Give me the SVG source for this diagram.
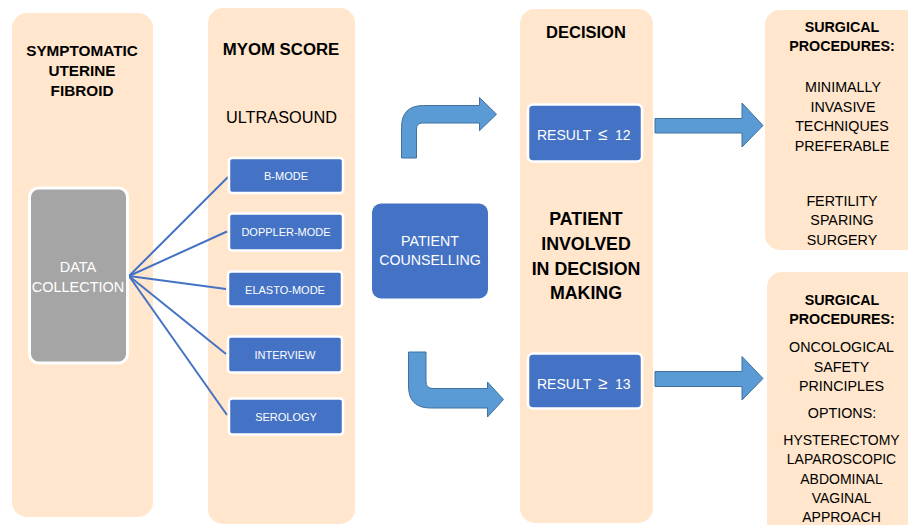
<svg xmlns="http://www.w3.org/2000/svg" width="908" height="525" viewBox="0 0 908 525">
<style>
text{font-family:"Liberation Sans",Arial,sans-serif;text-anchor:middle}
.panel{fill:#FFE6CC}
.b{font-weight:bold;fill:#000}
.r{fill:#000}
.w{fill:#fff}
.box{fill:#4472C4;stroke:#fff;stroke-width:2.5}
.arr{fill:#5B9BD5;stroke:#41719C;stroke-width:1}
.ln{stroke:#4472C4;stroke-width:2;fill:none}
</style>
<rect width="908" height="525" fill="#fff"/>
<g id="panel-symptomatic">
<rect class="panel" x="12" y="13" width="141" height="504" rx="15"/>
<text class="b" font-size="15.3" x="82" y="56">SYMPTOMATIC</text>
<text class="b" font-size="15.3" x="82" y="76">UTERINE</text>
<text class="b" font-size="15.3" x="82" y="96">FIBROID</text>
</g>
<g id="panel-myom">
<rect class="panel" x="208" y="8" width="147" height="516" rx="15"/>
<text class="b" font-size="16.8" x="281" y="55">MYOM SCORE</text>
<text class="r" font-size="16.3" x="281.5" y="123">ULTRASOUND</text>
</g>
<g id="panel-decision">
<rect class="panel" x="520" y="9" width="133" height="514" rx="15"/>
<text class="b" font-size="16.5" x="586" y="38">DECISION</text>
<text class="b" font-size="17.8" x="586" y="225">PATIENT</text>
<text class="b" font-size="17.8" x="586" y="250">INVOLVED</text>
<text class="b" font-size="17.8" x="586" y="275">IN DECISION</text>
<text class="b" font-size="17.8" x="586" y="298.5">MAKING</text>
</g>
<g id="panel-surgical-1">
<rect class="panel" x="765" y="10" width="160" height="240" rx="15"/>
<text class="b" font-size="14.3" x="842" y="31.5">SURGICAL</text>
<text class="b" font-size="14.3" x="842" y="50.5">PROCEDURES:</text>
<text class="r" font-size="14.3" x="843" y="91.5">MINIMALLY</text>
<text class="r" font-size="14.3" x="843" y="111.5">INVASIVE</text>
<text class="r" font-size="14.3" x="842" y="131">TECHNIQUES</text>
<text class="r" font-size="14.3" x="842" y="150.5">PREFERABLE</text>
<text class="r" font-size="14.3" x="842" y="205.5">FERTILITY</text>
<text class="r" font-size="14.3" x="842" y="225">SPARING</text>
<text class="r" font-size="14.3" x="842" y="245">SURGERY</text>
</g>
<g id="panel-surgical-2">
<rect class="panel" x="767" y="272" width="160" height="270" rx="15"/>
<text class="b" font-size="14.3" x="842" y="305">SURGICAL</text>
<text class="b" font-size="14.3" x="842" y="324">PROCEDURES:</text>
<text class="r" font-size="14.3" x="841.5" y="351.5">ONCOLOGICAL</text>
<text class="r" font-size="14.3" x="841.5" y="371.5">SAFETY</text>
<text class="r" font-size="14.3" x="841.5" y="390.5">PRINCIPLES</text>
<text class="r" font-size="14.3" x="842" y="418">OPTIONS:</text>
<text class="r" font-size="14" x="841.5" y="445">HYSTERECTOMY</text>
<text class="r" font-size="14" x="841.5" y="464">LAPAROSCOPIC</text>
<text class="r" font-size="14" x="841.5" y="483.5">ABDOMINAL</text>
<text class="r" font-size="14" x="841.5" y="503">VAGINAL</text>
<text class="r" font-size="14" x="841.5" y="522">APPROACH</text>
</g>
<g id="connectors">
<line class="ln" x1="129" y1="276" x2="228" y2="177"/>
<line class="ln" x1="129" y1="276" x2="227" y2="231.5"/>
<line class="ln" x1="129" y1="276" x2="226" y2="289"/>
<line class="ln" x1="129" y1="276" x2="226" y2="354"/>
<line class="ln" x1="129" y1="276" x2="227" y2="415"/>
<path class="arr" d="M401.5 158 L401.5 127.5 Q401.5 105.5 423.5 105.5 L479.5 105.5 L479.5 97.5 L496.5 114.2 L479.5 130.7 L479.5 123 L422.5 123 Q416.5 123 416.5 129 L416.5 158 Z"/>
<path class="arr" d="M408.5 352 L426 352 L426 381.5 Q426 388.5 433 388.5 L487.5 388.5 L487.5 382 L503.5 399.5 L487.5 417 L487.5 408 L430.5 408 Q408.5 408 408.5 386 Z"/>
<path class="arr" d="M655 118.5 H742 V103 L763 125.5 L742 147 V133 H655 Z"/>
<path class="arr" d="M655 371.5 H742 V356.5 L763 378.5 L742 400 V386.5 H655 Z"/>
</g>
<g id="data-collection">
<rect x="29.5" y="188" width="98" height="175" rx="9" fill="#A5A5A5" stroke="#fff" stroke-width="3"/>
<text class="w" font-size="14.5" x="78" y="272">DATA</text>
<text class="w" font-size="14.5" x="78" y="292">COLLECTION</text>
</g>
<g id="b-mode">
<rect class="box" x="229" y="158" width="114" height="35" rx="3"/>
<text class="w" font-size="11" x="286" y="180">B-MODE</text>
</g>
<g id="doppler-mode">
<rect class="box" x="229" y="213.5" width="114" height="37" rx="3"/>
<text class="w" font-size="11" x="286" y="236">DOPPLER-MODE</text>
</g>
<g id="elasto-mode">
<rect class="box" x="228" y="271.5" width="114" height="35" rx="3"/>
<text class="w" font-size="11" x="285" y="294">ELASTO-MODE</text>
</g>
<g id="interview">
<rect class="box" x="228" y="336.5" width="114" height="36" rx="3"/>
<text class="w" font-size="11" x="285" y="359">INTERVIEW</text>
</g>
<g id="serology">
<rect class="box" x="229" y="398.5" width="114" height="36" rx="3"/>
<text class="w" font-size="11" x="286" y="420.5">SEROLOGY</text>
</g>
<g id="patient-counselling">
<rect x="372" y="203.5" width="116" height="95" rx="9" fill="#4472C4"/>
<text class="w" font-size="14.2" x="430" y="246">PATIENT</text>
<text class="w" font-size="14.2" x="430" y="265">COUNSELLING</text>
</g>
<g id="result-low">
<rect class="box" x="528" y="104.5" width="114" height="57" rx="5" stroke-width="3"/>
<text class="w" font-size="14" style="text-anchor:start" x="537" y="140">RESULT</text>
<text class="w" font-size="17" style="text-anchor:start" x="598" y="140">≤</text>
<text class="w" font-size="14" style="text-anchor:start" x="615" y="140">12</text>
</g>
<g id="result-high">
<rect class="box" x="528" y="353.5" width="114" height="55" rx="5" stroke-width="3"/>
<text class="w" font-size="14" style="text-anchor:start" x="537" y="388.5">RESULT</text>
<text class="w" font-size="17" style="text-anchor:start" x="598" y="388.5">≥</text>
<text class="w" font-size="14" style="text-anchor:start" x="615" y="388.5">13</text>
</g>
</svg>
